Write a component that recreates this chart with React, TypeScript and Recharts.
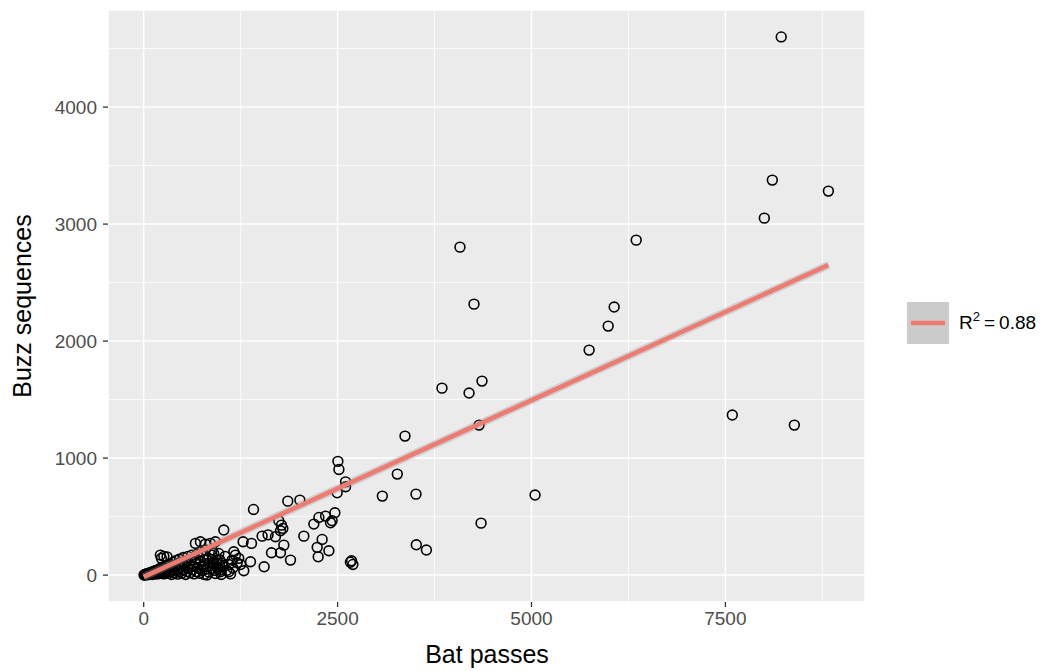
import { ScatterChart, Scatter, XAxis, YAxis, CartesianGrid, ReferenceLine, Legend, Label } from "recharts";

// Bat passes (x) vs buzz sequences (y)
const sites = [
  { x: 8220, y: 4600 }, { x: 8105, y: 3376 }, { x: 8002, y: 3051 }, { x: 8828, y: 3282 },
  { x: 6350, y: 2863 }, { x: 4078, y: 2803 }, { x: 4259, y: 2316 }, { x: 6066, y: 2291 },
  { x: 5989, y: 2128 }, { x: 5743, y: 1923 }, { x: 3846, y: 1598 }, { x: 4195, y: 1556 },
  { x: 4362, y: 1658 }, { x: 4324, y: 1282 }, { x: 7589, y: 1368 }, { x: 8389, y: 1282 },
  { x: 3369, y: 1188 }, { x: 3270, y: 863 }, { x: 3077, y: 675 }, { x: 3511, y: 692 },
  { x: 5046, y: 684 }, { x: 4350, y: 444 }, { x: 3515, y: 259 }, { x: 3645, y: 214 },
  { x: 2504, y: 972 }, { x: 2517, y: 903 }, { x: 2603, y: 797 }, { x: 2603, y: 755 },
  { x: 2495, y: 703 }, { x: 2680, y: 122 }, { x: 2697, y: 91 }, { x: 2665, y: 110 },
  { x: 1416, y: 561 }, { x: 1858, y: 632 }, { x: 2014, y: 641 }, { x: 2465, y: 533 },
  { x: 2345, y: 504 }, { x: 2259, y: 493 }, { x: 2194, y: 436 }, { x: 2409, y: 447 },
  { x: 2430, y: 465 }, { x: 2065, y: 333 }, { x: 2301, y: 305 }, { x: 2237, y: 237 },
  { x: 2388, y: 208 }, { x: 2250, y: 156 }, { x: 1742, y: 464 }, { x: 1777, y: 427 },
  { x: 1794, y: 399 }, { x: 1764, y: 379 }, { x: 1527, y: 333 }, { x: 1604, y: 344 },
  { x: 1699, y: 328 }, { x: 1807, y: 256 }, { x: 1648, y: 191 }, { x: 1764, y: 191 },
  { x: 1893, y: 128 }, { x: 1553, y: 71 }, { x: 1291, y: 37 }, { x: 1377, y: 114 },
  { x: 1282, y: 285 }, { x: 1390, y: 271 }, { x: 1033, y: 385 }, { x: 1097, y: 28 },
  { x: 1162, y: 199 }, { x: 1183, y: 171 }, { x: 1226, y: 143 }, { x: 1205, y: 105 },
  { x: 1140, y: 128 }, { x: 1250, y: 90 },
  { x: 667, y: 271 }, { x: 731, y: 285 }, { x: 796, y: 265 }, { x: 860, y: 271 },
  { x: 925, y: 285 }, { x: 796, y: 214 }, { x: 882, y: 214 }, { x: 968, y: 185 },
  { x: 903, y: 185 }, { x: 839, y: 143 }, { x: 946, y: 128 }, { x: 1011, y: 100 },
  { x: 882, y: 100 }, { x: 774, y: 71 }, { x: 882, y: 57 }, { x: 946, y: 71 },
  { x: 989, y: 43 }, { x: 817, y: 0 }, { x: 925, y: 14 }, { x: 989, y: 28 },
  { x: 228, y: 143 }, { x: 301, y: 156 }, { x: 215, y: 171 }, { x: 260, y: 160 },
  { x: 5, y: 0 }, { x: 10, y: 2 }, { x: 15, y: 5 }, { x: 20, y: 3 }, { x: 25, y: 8 },
  { x: 30, y: 4 }, { x: 35, y: 10 }, { x: 40, y: 6 }, { x: 50, y: 12 }, { x: 55, y: 3 },
  { x: 60, y: 15 }, { x: 70, y: 8 }, { x: 80, y: 20 }, { x: 90, y: 10 }, { x: 100, y: 25 },
  { x: 110, y: 5 }, { x: 120, y: 30 }, { x: 130, y: 15 }, { x: 140, y: 35 }, { x: 150, y: 8 },
  { x: 160, y: 40 }, { x: 170, y: 20 }, { x: 180, y: 45 }, { x: 190, y: 12 }, { x: 200, y: 50 },
  { x: 210, y: 28 }, { x: 220, y: 60 }, { x: 230, y: 18 }, { x: 240, y: 65 }, { x: 250, y: 35 },
  { x: 260, y: 10 }, { x: 270, y: 55 }, { x: 280, y: 75 }, { x: 290, y: 25 }, { x: 300, y: 45 },
  { x: 310, y: 85 }, { x: 320, y: 15 }, { x: 330, y: 60 }, { x: 340, y: 95 }, { x: 350, y: 30 },
  { x: 360, y: 5 }, { x: 370, y: 70 }, { x: 380, y: 110 }, { x: 390, y: 40 }, { x: 400, y: 20 },
  { x: 410, y: 85 }, { x: 420, y: 125 }, { x: 430, y: 50 }, { x: 440, y: 8 }, { x: 450, y: 100 },
  { x: 460, y: 135 }, { x: 470, y: 30 }, { x: 480, y: 65 }, { x: 490, y: 15 }, { x: 500, y: 110 },
  { x: 510, y: 150 }, { x: 520, y: 45 }, { x: 530, y: 80 }, { x: 540, y: 5 }, { x: 550, y: 120 },
  { x: 560, y: 30 }, { x: 570, y: 160 }, { x: 580, y: 60 }, { x: 590, y: 95 }, { x: 600, y: 20 },
  { x: 610, y: 130 }, { x: 620, y: 170 }, { x: 630, y: 45 }, { x: 640, y: 75 }, { x: 650, y: 10 },
  { x: 660, y: 110 }, { x: 670, y: 140 }, { x: 680, y: 30 }, { x: 690, y: 180 }, { x: 700, y: 60 },
  { x: 710, y: 90 }, { x: 720, y: 15 }, { x: 730, y: 120 }, { x: 740, y: 200 }, { x: 750, y: 40 },
  { x: 760, y: 75 }, { x: 770, y: 160 }, { x: 780, y: 5 }, { x: 790, y: 100 }, { x: 800, y: 50 },
  { x: 820, y: 130 }, { x: 840, y: 25 }, { x: 860, y: 80 }, { x: 880, y: 170 }, { x: 900, y: 110 },
  { x: 920, y: 40 }, { x: 940, y: 95 }, { x: 960, y: 60 }, { x: 980, y: 130 }, { x: 1000, y: 5 },
  { x: 1020, y: 70 }, { x: 1050, y: 160 }, { x: 1070, y: 40 }, { x: 1100, y: 90 }, { x: 1120, y: 10 },
  { x: 1150, y: 60 },
];

// fitted line, ends at the smallest and largest bat passes
const fitLine = [
  { x: 0, y: -15 },
  { x: 8828, y: 2650 },
];

const xTicks = [0, 2500, 5000, 7500];
const yTicks = [0, 1000, 2000, 3000, 4000];
const xMinor = [1250, 3750, 6250, 8750];
const yMinor = [500, 1500, 2500, 3500, 4500];

const font = "'Liberation Sans', Arial, sans-serif";

const OpenCircle = (props: any) => (
  <circle cx={props.cx} cy={props.cy} r={4.9} fill="none" stroke="#000" strokeWidth={1.6} />
);

const renderLegend = () => (
  <div style={{ display: "flex", alignItems: "center", fontFamily: font }}>
    <svg width={42} height={42}>
      <rect x={0} y={0} width={42} height={42} fill="#CBCBCB" />
      <line x1={4} y1={21} x2={38} y2={21} stroke="#EE7A70" strokeWidth={4.5} />
    </svg>
    <span style={{ marginLeft: 10, fontSize: 19, color: "#000", whiteSpace: "nowrap" }}>
      R<sup style={{ fontSize: 13, verticalAlign: 8, lineHeight: 0 }}>2</sup>
      <span style={{ marginLeft: 4 }}>=</span>
      <span style={{ marginLeft: 4 }}>0.88</span>
    </span>
  </div>
);

export default function App() {
  return (
    <div style={{ position: "absolute", left: 0, top: 0, background: "#fff" }}>
      <ScatterChart
        width={1049}
        height={671}
        margin={{ top: 10, right: 184, bottom: 9, left: 48 }}
        style={{ fontFamily: font }}
      >
        <CartesianGrid fill="#EBEBEB" stroke="#FFFFFF" strokeWidth={1.5} />
        {xMinor.map((v) => (
          <ReferenceLine key={"vx" + v} x={v} stroke="#FFFFFF" strokeWidth={0.8} />
        ))}
        {yMinor.map((v) => (
          <ReferenceLine key={"hy" + v} y={v} stroke="#FFFFFF" strokeWidth={0.8} />
        ))}
        <XAxis
          type="number"
          dataKey="x"
          domain={[-460, 9300]}
          ticks={xTicks}
          allowDataOverflow
          height={60}
          axisLine={false}
          tickLine={{ stroke: "#333333", strokeWidth: 1.3 }}
          tickSize={5}
          tickMargin={5}
          tick={{ fill: "#4D4D4D", fontSize: 19, fontFamily: font }}
        >
          <Label
            content={() => (
              <text x={487} y={663} textAnchor="middle" fontSize={25} fill="#000" fontFamily={font}>
                Bat passes
              </text>
            )}
          />
        </XAxis>
        <YAxis
          type="number"
          dataKey="y"
          domain={[-230, 4830]}
          ticks={yTicks}
          allowDataOverflow
          width={60}
          axisLine={false}
          tickLine={{ stroke: "#333333", strokeWidth: 1.3 }}
          tickSize={5}
          tickMargin={6}
          tick={{ fill: "#4D4D4D", fontSize: 19, fontFamily: font }}
        >
          <Label
            content={() => (
              <text
                x={31}
                y={306}
                transform="rotate(-90 31 306)"
                textAnchor="middle"
                fontSize={25}
                fill="#000"
                fontFamily={font}
              >
                Buzz sequences
              </text>
            )}
          />
        </YAxis>
        <Scatter
          data={sites}
          shape={OpenCircle}
          isAnimationActive={false}
          legendType="none"
        />
        <Scatter
          data={fitLine}
          line={{ stroke: "rgba(150,150,150,0.35)", strokeWidth: 8 }}
          shape={() => <g />}
          isAnimationActive={false}
          legendType="none"
        />
        <Scatter
          data={fitLine}
          line={{ stroke: "#EE7A70", strokeWidth: 4.5 }}
          shape={() => <g />}
          isAnimationActive={false}
          legendType="none"
        />
        <Legend
          layout="horizontal"
          verticalAlign="middle"
          content={renderLegend}
          wrapperStyle={{ left: 907, top: 302, width: 140 }}
        />
      </ScatterChart>
    </div>
  );
}
